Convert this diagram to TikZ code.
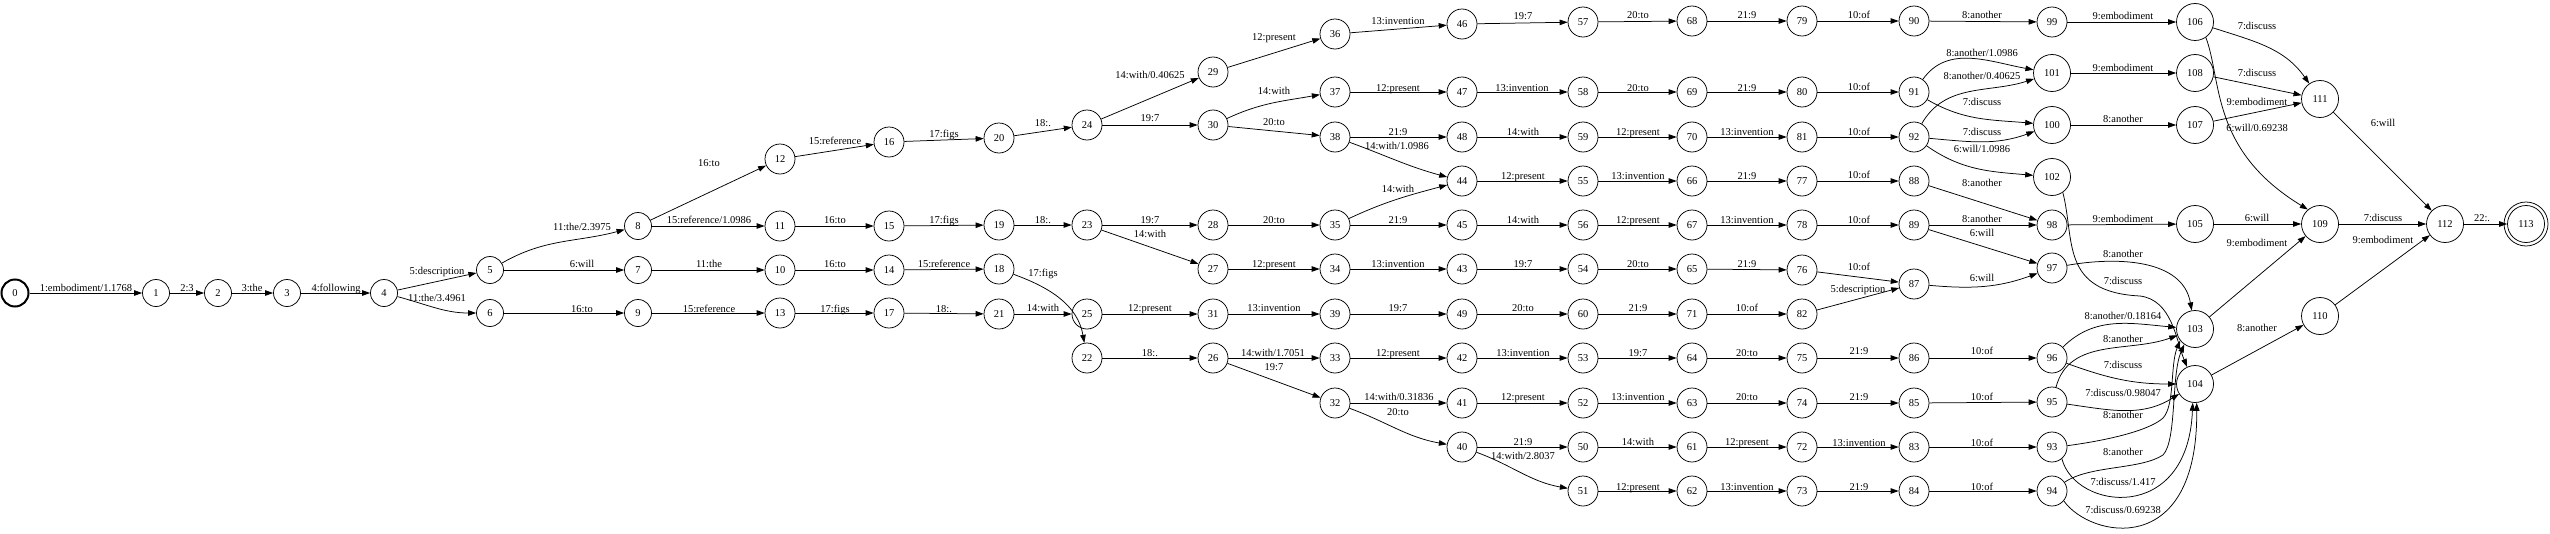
\documentclass[tikz,border=0pt]{standalone}
\usepackage{fontspec}
\setmainfont{Liberation Serif}
\usetikzlibrary{arrows.meta}
\newcommand\N[3]{\ifnum#1<10 \def\sz{27pt}\else\ifnum#1<100 \def\sz{30pt}\else\def\sz{37pt}\fi\fi
  \node[st,minimum size=\sz] (n#1) at (#2,#3) {#1};}
\newcommand\E[6]{\draw[ed] (n#2) to[#1] (n#3); \node[lb] at (#4,#5) {#6};}
\begin{document}
\begin{tikzpicture}[x=1pt,y=-1pt,
  st/.style={circle,draw,line width=0.75pt,inner sep=0pt,font=\fontsize{10.5}{12}\selectfont},
  ed/.style={line width=0.75pt,-{Triangle[length=8pt,width=5.5pt]}},
  lb/.style={inner sep=0pt,font=\fontsize{10.5}{12}\selectfont,text height=7pt,text depth=2pt,yshift=-1pt}]
\useasboundingbox (0,0) rectangle (2550,533);
% nodes
\node[st,minimum size=27pt,line width=2pt] (n0) at (15,293) {0};
\N{1}{156}{293}\N{2}{218}{293}\N{3}{287}{293}\N{4}{384}{293}
\N{5}{490}{270}\N{6}{490}{313}
\N{7}{638}{270}\N{8}{638}{226}\N{9}{638}{313}
\N{10}{780}{270}\N{11}{780}{226}\N{12}{780}{159}\N{13}{780}{313}
\N{14}{889}{270}\N{15}{889}{226}\N{16}{889}{142}\N{17}{889}{313}
\N{18}{999}{269}\N{19}{999}{225}\N{20}{999}{138}\N{21}{999}{314}
\N{22}{1087}{358}\N{23}{1087}{225}\N{24}{1087}{125}\N{25}{1087}{314}
\N{26}{1213}{358}\N{27}{1213}{269}\N{28}{1213}{225}\N{29}{1213}{72}\N{30}{1213}{125}\N{31}{1213}{314}
\N{32}{1335}{403}\N{33}{1335}{358}\N{34}{1335}{269}\N{35}{1335}{225}\N{36}{1335}{34}\N{37}{1335}{92}\N{38}{1335}{137}\N{39}{1335}{314}
\N{40}{1462}{447}\N{41}{1462}{403}\N{42}{1462}{358}\N{43}{1462}{269}\N{44}{1462}{181}\N{45}{1462}{225}\N{46}{1462}{24}\N{47}{1462}{92}\N{48}{1462}{137}\N{49}{1462}{314}
\N{50}{1583}{447}\N{51}{1583}{491}\N{52}{1583}{403}\N{53}{1583}{358}\N{54}{1583}{269}\N{55}{1583}{181}\N{56}{1583}{225}\N{57}{1583}{22}\N{58}{1583}{92}\N{59}{1583}{137}\N{60}{1583}{314}
\N{61}{1692}{447}\N{62}{1692}{491}\N{63}{1692}{403}\N{64}{1692}{358}\N{65}{1692}{269}\N{66}{1692}{181}\N{67}{1692}{225}\N{68}{1692}{21}\N{69}{1692}{92}\N{70}{1692}{137}\N{71}{1692}{314}
\N{72}{1802}{447}\N{73}{1802}{491}\N{74}{1802}{403}\N{75}{1802}{358}\N{76}{1802}{270}\N{77}{1802}{181}\N{78}{1802}{225}\N{79}{1802}{21}\N{80}{1802}{92}\N{81}{1802}{137}\N{82}{1802}{314}
\N{83}{1914}{447}\N{84}{1914}{491}\N{85}{1914}{403}\N{86}{1914}{358}\N{87}{1914}{284}\N{88}{1914}{181}\N{89}{1914}{225}\N{90}{1914}{21}\N{91}{1914}{92}\N{92}{1914}{137}
\N{93}{2052}{447}\N{94}{2052}{491}\N{95}{2052}{402}\N{96}{2052}{358}\N{97}{2052}{268}\N{98}{2052}{225}\N{99}{2052}{22}\N{100}{2052}{125}\N{101}{2052}{73}\N{102}{2052}{177}
\N{103}{2195}{329}\N{104}{2195}{384}\N{105}{2195}{224}\N{106}{2195}{22}\N{107}{2195}{125}\N{108}{2195}{73}
\N{109}{2320}{224}\N{110}{2320}{316}\N{111}{2320}{99}\N{112}{2445}{224}\N{113}{2526}{224}
\draw[line width=0.75pt] (n113.center) circle[radius=22pt];
% edges
\E{}{0}{1}{86}{288}{1:embodiment/1.1768}
\E{}{1}{2}{187}{288}{2:3}
\E{}{2}{3}{252}{288}{3:the}
\E{}{3}{4}{336}{288}{4:following}
\E{}{4}{5}{437}{271}{5:description}
\E{out=-15,in=180}{4}{6}{437}{298}{11:the/3.4961}
\E{out=30,in=195}{5}{8}{582}{227}{11:the/2.3975}
\E{}{5}{7}{582}{264}{6:will}
\E{}{6}{9}{582}{309}{16:to}
\E{}{8}{12}{709}{163}{16:to}
\E{}{8}{11}{709}{220}{15:reference/1.0986}
\E{}{7}{10}{709}{264}{11:the}
\E{}{9}{13}{709}{309}{15:reference}
\E{}{12}{16}{835}{141}{15:reference}
\E{}{11}{15}{835}{220}{16:to}
\E{}{10}{14}{835}{264}{16:to}
\E{}{13}{17}{835}{309}{17:figs}
\E{}{16}{20}{944}{134}{17:figs}
\E{}{15}{19}{944}{220}{17:figs}
\E{}{14}{18}{944}{264}{15:reference}
\E{}{17}{21}{944}{309}{18:.}
\E{}{20}{24}{1043}{123}{18:.}
\E{}{19}{23}{1043}{220}{18:.}
\E{out=-20,in=100}{18}{22}{1043}{273}{17:figs}
\E{}{21}{25}{1043}{308}{14:with}
\E{}{24}{29}{1150}{75}{14:with/0.40625}
\E{}{24}{30}{1150}{118}{19:7}
\E{}{23}{28}{1150}{220}{19:7}
\E{}{23}{27}{1150}{234}{14:with}
\E{}{22}{26}{1150}{353}{18:.}
\E{}{25}{31}{1150}{308}{12:present}
\E{}{29}{36}{1274}{37}{12:present}
\E{out=25,in=190}{30}{37}{1274}{91}{14:with}
\E{}{30}{38}{1274}{122}{20:to}
\E{}{28}{35}{1274}{220}{20:to}
\E{}{27}{34}{1274}{264}{12:present}
\E{}{31}{39}{1274}{308}{13:invention}
\E{}{26}{33}{1273}{353}{14:with/1.7051}
\E{}{26}{32}{1274}{367}{19:7}
\E{}{36}{46}{1398}{21}{13:invention}
\E{}{37}{47}{1398}{88}{12:present}
\E{}{38}{48}{1398}{132}{21:9}
\E{out=-20,in=165}{38}{44}{1397}{146}{14:with/1.0986}
\E{out=25,in=195}{35}{44}{1398}{189}{14:with}
\E{}{35}{45}{1398}{220}{21:9}
\E{}{34}{43}{1398}{264}{13:invention}
\E{}{39}{49}{1398}{308}{19:7}
\E{}{33}{42}{1398}{353}{12:present}
\E{}{32}{41}{1399}{397}{14:with/0.31836}
\E{out=-20,in=170}{32}{40}{1398}{412}{20:to}
\E{}{46}{57}{1523}{16}{19:7}
\E{}{57}{68}{1638}{15}{20:to}
\E{}{68}{79}{1747}{15}{21:9}
\E{}{79}{90}{1859}{15}{10:of}
\E{}{90}{99}{1982}{15}{8:another}
\E{}{99}{106}{2123}{16}{9:embodiment}
\E{}{47}{58}{1522}{88}{13:invention}
\E{}{58}{69}{1638}{88}{20:to}
\E{}{69}{80}{1747}{88}{21:9}
\E{}{80}{91}{1859}{87}{10:of}
\E{}{48}{59}{1523}{132}{14:with}
\E{}{59}{70}{1638}{132}{12:present}
\E{}{70}{81}{1747}{132}{13:invention}
\E{}{81}{92}{1859}{132}{10:of}
\E{}{44}{55}{1523}{176}{12:present}
\E{}{55}{66}{1638}{176}{13:invention}
\E{}{66}{77}{1747}{176}{21:9}
\E{}{77}{88}{1859}{175}{10:of}
\E{}{45}{56}{1523}{220}{14:with}
\E{}{56}{67}{1638}{220}{12:present}
\E{}{67}{78}{1747}{220}{13:invention}
\E{}{78}{89}{1859}{220}{10:of}
\E{}{43}{54}{1523}{264}{19:7}
\E{}{54}{65}{1638}{264}{20:to}
\E{}{65}{76}{1747}{264}{21:9}
\E{}{76}{87}{1859}{267}{10:of}
\E{}{49}{60}{1523}{308}{20:to}
\E{}{60}{71}{1638}{308}{21:9}
\E{}{71}{82}{1747}{308}{10:of}
\E{}{82}{87}{1858}{289}{5:description}
\E{}{42}{53}{1523}{353}{13:invention}
\E{}{53}{64}{1638}{353}{19:7}
\E{}{64}{75}{1747}{353}{20:to}
\E{}{75}{86}{1859}{351}{21:9}
\E{}{86}{96}{1982}{351}{10:of}
\E{}{41}{52}{1523}{397}{12:present}
\E{}{52}{63}{1638}{397}{13:invention}
\E{}{63}{74}{1747}{397}{20:to}
\E{}{74}{85}{1859}{397}{21:9}
\E{}{85}{95}{1982}{397}{10:of}
\E{}{40}{50}{1523}{442}{21:9}
\E{out=-20,in=170}{40}{51}{1523}{456}{14:with/2.8037}
\E{}{50}{61}{1638}{442}{14:with}
\E{}{61}{72}{1747}{442}{12:present}
\E{}{72}{83}{1859}{443}{13:invention}
\E{}{83}{93}{1982}{443}{10:of}
\E{}{51}{62}{1638}{487}{12:present}
\E{}{62}{73}{1747}{487}{13:invention}
\E{}{73}{84}{1859}{487}{21:9}
\E{}{84}{94}{1982}{487}{10:of}
\E{out=55,in=170}{91}{101}{1982}{53}{8:another/1.0986}
\E{out=60,in=198}{92}{101}{1982}{76}{8:another/0.40625}
\E{out=-30,in=175}{91}{100}{1982}{102}{7:discuss}
\E{out=-5,in=200}{92}{100}{1982}{132}{7:discuss}
\E{out=-35,in=175}{92}{102}{1982}{149}{6:will/1.0986}
\E{}{88}{98}{1982}{183}{8:another}
\E{}{89}{98}{1982}{219}{8:another}
\E{}{89}{97}{1982}{233}{6:will}
\E{out=-5,in=200}{87}{97}{1982}{278}{6:will}
\E{}{101}{108}{2123}{68}{9:embodiment}
\E{}{100}{107}{2123}{119}{8:another}
\E{}{98}{105}{2123}{219}{9:embodiment}
\E{out=10,in=100}{97}{103}{2123}{254}{8:another}
\draw[ed] (n102.-55) .. controls (2075,240) and (2060,292) .. (2140,296) .. controls (2172,300) and (2176,340) .. (n104.115);
\node[lb] at (2123,281) {7:discuss};
\E{out=45,in=175}{96}{103}{2123}{316}{8:another/0.18164}
\E{out=75,in=200}{95}{103}{2123}{339}{8:another}
\E{out=-20,in=180}{96}{104}{2123}{365}{7:discuss}
\E{out=-8,in=212}{95}{104}{2123}{393}{7:discuss/0.98047}
\draw[ed] (n93.5) .. controls (2110,440) and (2150,430) .. (2163,418) .. controls (2175,405) and (2170,365) .. (n103.218);
\node[lb] at (2123,415) {8:another};
\draw[ed] (n94.35) .. controls (2090,465) and (2140,470) .. (2163,455) .. controls (2177,440) and (2171,375) .. (n103.235);
\node[lb] at (2123,452) {8:another};
\draw[ed] (n93.-50) .. controls (2075,510) and (2188,525) .. (n104.263);
\node[lb] at (2123,482) {7:discuss/1.417};
\draw[ed] (n94.-40) .. controls (2090,538) and (2198,560) .. (n104.275);
\node[lb] at (2123,510) {7:discuss/0.69238};
\E{out=-18,in=125}{106}{111}{2257}{26}{7:discuss}
\E{}{108}{111}{2257}{73}{7:discuss}
\E{}{107}{111}{2257}{102}{9:embodiment}
\draw[ed] (n106.-55) .. controls (2222,80) and (2210,150) .. (n109.130);
\node[lb] at (2257,128) {6:will/0.69238};
\E{}{105}{109}{2257}{218}{6:will}
\E{}{103}{109}{2257}{243}{9:embodiment}
\E{}{104}{110}{2257}{328}{8:another}
\E{}{111}{112}{2383}{123}{6:will}
\E{}{109}{112}{2383}{218}{7:discuss}
\E{}{110}{112}{2383}{240}{9:embodiment}
\E{}{112}{113}{2482}{218}{22:.}
\end{tikzpicture}
\end{document}
